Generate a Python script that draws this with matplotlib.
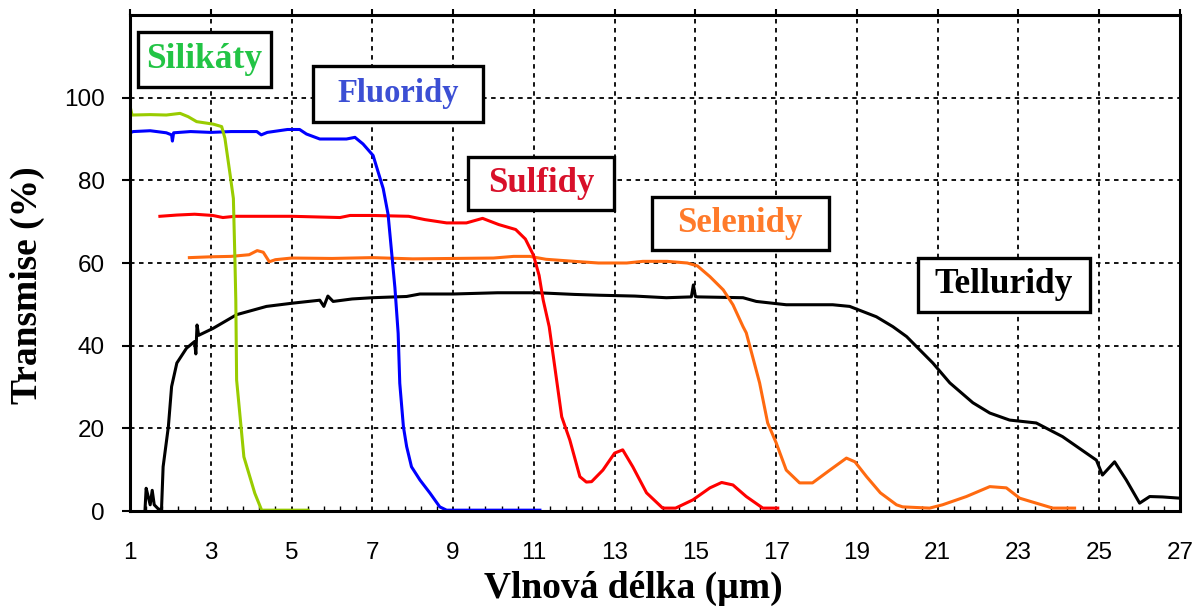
import matplotlib
matplotlib.use("Agg")
import matplotlib.pyplot as plt
import numpy as np
from matplotlib.patches import Rectangle

# transmission curves of IR glass families, wavelength in um vs %
sil_x = [1.0, 1.0, 1.05, 1.5, 1.9, 2.24, 2.44, 2.65, 3.06, 3.27, 3.35, 3.48, 3.56,
         3.6, 3.62, 3.64, 3.82, 4.09, 4.26, 5.41]
sil_y = [100, 98, 95.8, 95.9, 95.8, 96.2, 95.4, 94.2, 93.6, 93.0, 90.2, 81.3, 75.6,
         60, 51, 31.7, 13.1, 4.3, 0.2, 0.2]

flu_x = [1.0, 1.08, 1.5, 1.9, 2.03, 2.05, 2.08, 2.5, 3.0, 3.5, 4.14, 4.25, 4.4, 4.9,
         5.2, 5.37, 5.7, 6.36, 6.57, 6.77, 7.02, 7.27, 7.39, 7.48, 7.56, 7.64, 7.68,
         7.77, 7.85, 7.97, 8.18, 8.43, 8.67, 8.84, 11.15]
flu_y = [91.5, 91.8, 92.0, 91.5, 91.0, 89.5, 91.5, 91.8, 91.6, 91.8, 91.8, 91.0, 91.6,
         92.3, 92.3, 91.2, 90.0, 90.0, 90.4, 88.8, 86.0, 78.0, 71.8, 62.4, 54.0, 43.0,
         30.9, 20.4, 15.6, 10.7, 7.5, 4.3, 1.0, 0.2, 0.2]

sul_x = [1.74, 2.16, 2.6, 3.05, 3.3, 3.6, 4.0, 5.0, 6.2, 6.45, 7.0, 7.9, 8.3, 8.84,
         9.33, 9.73, 10.13, 10.55, 10.79, 10.99, 11.13, 11.23, 11.38, 11.69, 11.89,
         12.14, 12.3, 12.43, 12.71, 13.0, 13.2, 13.45, 13.79, 14.19, 14.51, 14.94,
         15.36, 15.65, 15.93, 16.26, 16.67, 17.04]
sul_y = [71.3, 71.6, 71.8, 71.5, 71.0, 71.3, 71.3, 71.3, 71.0, 71.5, 71.5, 71.3, 70.5,
         69.7, 69.7, 70.8, 69.3, 68.1, 65.8, 61.9, 57.0, 51.1, 44.6, 22.8, 17.2, 8.3,
         7.0, 7.1, 9.9, 14.0, 14.8, 10.7, 4.4, 0.7, 0.7, 2.7, 5.6, 6.9, 6.3, 3.5, 0.7,
         0.7]

sel_x = [2.47, 3.0, 3.5, 3.95, 4.15, 4.3, 4.45, 4.6, 5.0, 6.0, 7.0, 8.0, 9.0, 10.0,
         10.5, 10.9, 11.3, 12.0, 12.6, 13.3, 13.7, 14.3, 14.8, 15.05, 15.36, 15.69,
         15.93, 16.18, 16.26, 16.59, 16.79, 17.0, 17.25, 17.58, 17.9, 18.33, 18.74,
         18.95, 19.24, 19.58, 19.98, 20.13, 20.8, 21.12, 21.71, 22.29, 22.7, 23.03,
         23.44, 23.85, 24.39]
sel_y = [61.3, 61.5, 61.6, 62.0, 63.0, 62.6, 60.3, 60.8, 61.2, 61.1, 61.3, 61.0, 61.1,
         61.2, 61.6, 61.6, 60.9, 60.4, 60.0, 60.0, 60.4, 60.4, 60.0, 59.3, 56.7, 53.5,
         49.9, 44.6, 43.1, 31.0, 21.3, 16.5, 9.9, 6.8, 6.8, 9.9, 12.8, 11.9, 8.3, 4.4,
         1.5, 1.0, 0.7, 1.5, 3.5, 5.9, 5.6, 3.1, 1.9, 0.7, 0.7]

tel_x = [1.37, 1.4, 1.45, 1.5, 1.55, 1.6, 1.7, 1.78, 1.82, 1.95, 2.03, 2.16, 2.4, 2.6,
         2.63, 2.66, 2.7, 3.06, 3.64, 4.38, 5.04, 5.7, 5.8, 5.9, 6.03, 6.5, 7.0, 7.85,
         8.18, 9.0, 10.1, 11.1, 12.0, 12.63, 13.5, 14.28, 14.9, 14.95, 15.0, 15.05,
         16.18, 16.51, 17.25, 18.4, 18.82, 19.48, 19.89, 20.23, 20.88, 21.3, 21.87,
         22.29, 22.78, 23.44, 24.09, 24.93, 25.08, 25.38, 25.67, 26.0, 26.25, 26.57,
         27.0]
tel_y = [0, 5.5, 3.5, 1.5, 5.0, 1.5, 0.5, 0.3, 10.7, 20.4, 30.1, 35.8, 39.4, 41.0,
         38.0, 45.0, 42.5, 44.2, 47.5, 49.5, 50.3, 51.0, 49.5, 52.0, 50.7, 51.3, 51.6,
         51.9, 52.5, 52.5, 52.8, 52.8, 52.4, 52.2, 52.0, 51.6, 51.8, 54.7, 51.9, 51.8,
         51.6, 50.7, 49.9, 49.9, 49.5, 47.0, 44.6, 42.2, 35.8, 31.0, 26.2, 23.7, 22.0,
         21.3, 18.0, 12.3, 8.7, 11.9, 7.5, 1.9, 3.5, 3.4, 3.1]

# label boxes: text, text colour, font size, (x0, x1, y0, y1) in data units
box_names = ["Silikáty", "Fluoridy", "Sulfidy", "Selenidy", "Telluridy"]
box_colors = ["#22c445", "#3c4fd4", "#d8102a", "#ff7a2a", "black"]
box_sizes = [25.5, 23.5, 25, 25, 25.5]
box_extents = [(1.2, 4.49, 102.6, 116.0),
               (5.53, 9.74, 94.2, 107.6),
               (9.37, 12.98, 72.9, 85.7),
               (13.92, 18.3, 63.2, 76.0),
               (20.5, 24.76, 48.2, 61.3)]

fig = plt.figure(figsize=(11.93, 6.08), dpi=100)
ax = fig.add_axes([130 / 1193, 97 / 608, 1050 / 1193, 496 / 608])

lw = 2.2
ax.plot(tel_x, tel_y, color="black", lw=lw, zorder=2)
ax.plot(sel_x, sel_y, color="#ff6a10", lw=lw, zorder=3)
ax.plot(sul_x, sul_y, color="#ff0000", lw=lw, zorder=4)
ax.plot(flu_x, flu_y, color="#0000ff", lw=lw, zorder=5)
ax.plot(sil_x, sil_y, color="#99cc00", lw=lw, zorder=6)

ax.set_xlim(1, 27)
ax.set_ylim(0, 120)
ax.set_xticks(np.arange(1, 28, 2))
ax.set_yticks(np.arange(0, 101, 20))
ax.set_xticks(np.arange(1, 27.01, 0.4), minor=True)

ax.grid(True, which="major", color="black", linestyle=(0, (2.5, 2.5)), lw=1.3)
ax.set_axisbelow(True)

for sp in ax.spines.values():
    sp.set_linewidth(2.2)
    sp.set_zorder(10)

ax.tick_params(axis="x", which="major", length=0, pad=22)
ax.tick_params(axis="x", which="minor", direction="in", length=3.5, width=1)
ax.tick_params(axis="y", which="major", direction="out", length=6, width=1.5, pad=12)
for lab in ax.get_xticklabels() + ax.get_yticklabels():
    lab.set_fontfamily("Liberation Sans")
    lab.set_fontsize(17.5)

top = ax.secondary_xaxis("top")
top.set_xticks(np.arange(1, 28, 2))
top.tick_params(direction="out", length=4, width=1.5, labeltop=False)

for name, col, fs, (x0, x1, y0, y1) in zip(box_names, box_colors, box_sizes, box_extents):
    ax.add_patch(Rectangle((x0, y0), x1 - x0, y1 - y0, facecolor="white",
                           edgecolor="black", lw=2.4, zorder=8))
    ax.text((x0 + x1) / 2, (y0 + y1) / 2, name, color=col, ha="center", va="center",
            fontfamily="Liberation Serif", fontweight="bold", fontsize=fs, zorder=9)

fig.text(633 / 1193, 1 - 588 / 608, "Vlnová délka (µm)", ha="center", va="center",
         fontfamily="Liberation Serif", fontweight="bold", fontsize=27)
fig.text(27 / 1193, 1 - 285 / 608, "Transmise (%)", ha="center", va="center",
         rotation=90, fontfamily="Liberation Serif", fontweight="bold", fontsize=27)

fig.savefig("out.png", dpi=100)
